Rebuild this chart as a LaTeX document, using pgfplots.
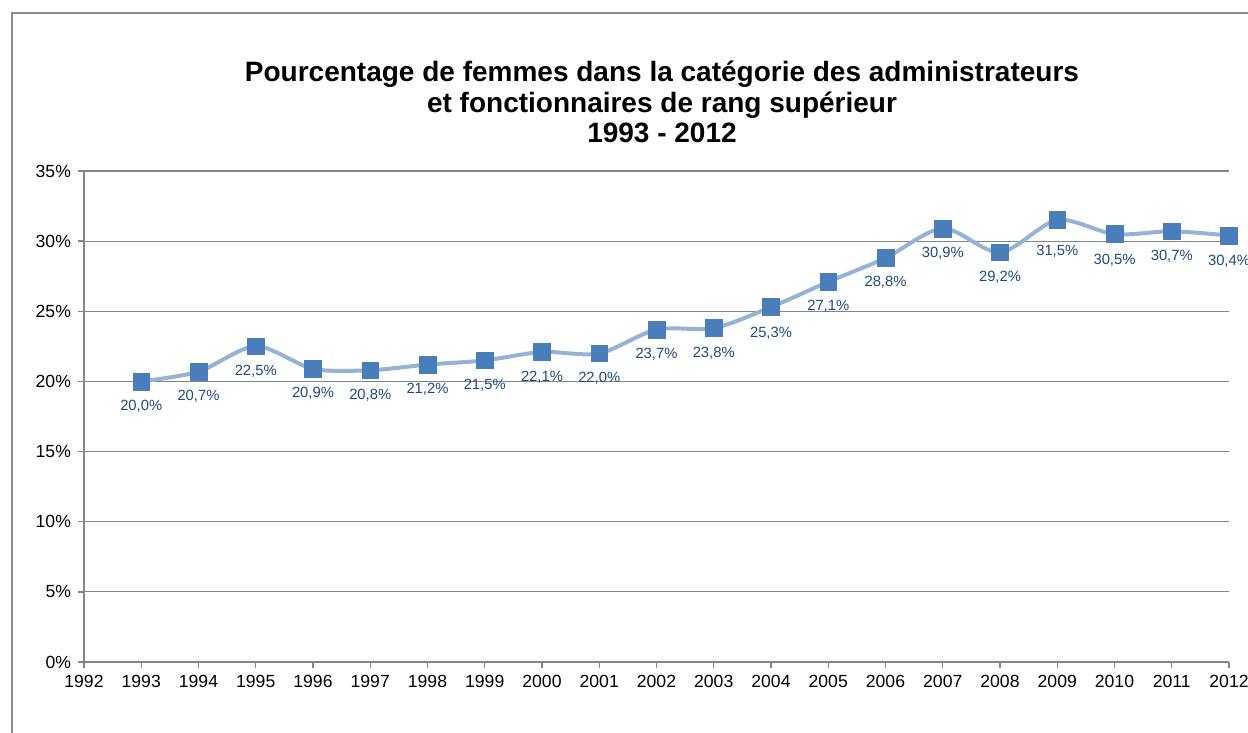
\documentclass[border=0pt]{standalone}
\usepackage{pgfplots}
\pgfplotsset{compat=1.18}
\usepackage{fontspec}
\setmainfont{Liberation Sans}
\definecolor{linec}{HTML}{95B3D7}
\definecolor{markc}{HTML}{4A7EBB}
\definecolor{labc}{HTML}{1F497D}
\definecolor{axc}{HTML}{868686}
\definecolor{framec}{HTML}{8C8C8C}
\pgfplotstableread{
year val dy
1993 20.0 -12.5
1994 20.7 -12.5
1995 22.5 -12.5
1996 20.9 -12
1997 20.8 -12.5
1998 21.2 -12.5
1999 21.5 -12.5
2000 22.1 -12.5
2001 22.0 -12.5
2002 23.7 -12.5
2003 23.8 -12.5
2004 25.3 -13
2005 27.1 -12
2006 28.8 -12
2007 30.9 -12.5
2008 29.2 -12.5
2009 31.5 -15.5
2010 30.5 -13
2011 30.7 -12.5
2012 30.4 -13
}\datatable
\begin{document}
\begin{tikzpicture}
\useasboundingbox (0pt,0pt) rectangle (624pt,366.5pt);
\draw[framec, line width=0.9pt] (6pt,-2pt) -- (6pt,360pt) -- (626pt,360pt);
\node[align=center, font=\fontsize{14}{15.2}\selectfont\bfseries, anchor=center] at (331pt,315.5pt)
{Pourcentage de femmes dans la catégorie des administrateurs\\et fonctionnaires de rang supérieur\\1993 - 2012};
\begin{axis}[
  at={(42pt,35.5pt)}, anchor=south west,
  scale only axis, width=572.5pt, height=245.5pt,
  xmin=1992, xmax=2012, ymin=0, ymax=35,
  xtick={1992,1993,...,2012}, ytick={0,5,...,35},
  /pgf/number format/assume math mode=true,
  xticklabel={\pgfmathprintnumber[1000 sep={},fixed,precision=0]{\tick}},
  yticklabel={\pgfmathprintnumber[fixed,precision=0]{\tick}\%},
  tick label style={font=\fontsize{8.8}{10}\selectfont, text=black},
  axis x line*=bottom, axis y line*=left,
  axis line style={axc, line width=0.9pt, -},
  tick style={axc, line width=0.7pt},
  tick align=outside, major tick length=3pt,
  ymajorgrids, grid style={axc, line width=0.6pt},
  clip=false,
  visualization depends on={\thisrow{dy} \as \dy},
  nodes near coords={\pgfmathprintnumber[fixed,fixed zerofill,precision=1,use comma]{\pgfplotspointmeta}\%},
  nodes near coords style={anchor=center, yshift=\dy pt, font=\fontsize{7.4}{9}\selectfont, text=labc},
]
\addplot[linec, line width=2pt, smooth, mark=square*, mark size=4.2pt,
  mark options={fill=markc, draw=markc, line width=0.3pt}, point meta=explicit]
  table[x=year, y=val, meta=val] {\datatable};
\end{axis}
\end{tikzpicture}
\end{document}
